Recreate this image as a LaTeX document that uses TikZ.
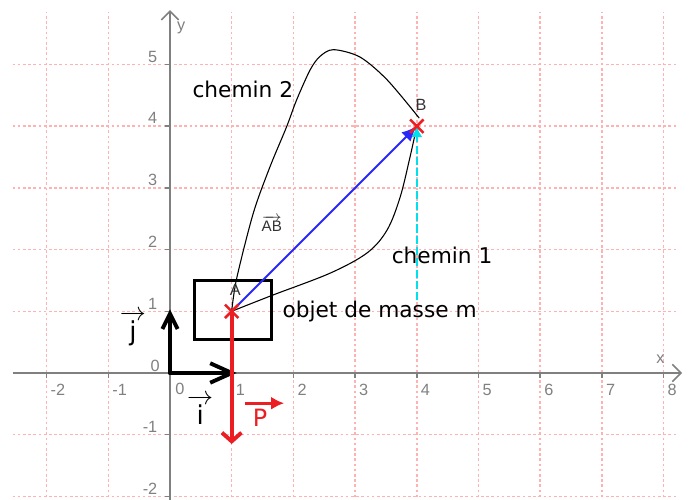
\documentclass[tikz,border=0pt]{standalone}
\usepackage{amsmath}
\usepackage{fontspec}
\usetikzlibrary{arrows.meta, shapes.misc}
\newfontfamily\comic{DejaVu Sans}
\newfontfamily\arialf{Liberation Sans}
\definecolor{rosegrille}{RGB}{255,178,178}
\definecolor{grisaxe}{RGB}{128,128,128}
\definecolor{rougev}{RGB}{235,30,35}
\definecolor{bleuv}{RGB}{40,40,250}
\definecolor{cyanv}{RGB}{0,225,235}

\begin{document}
\begin{tikzpicture}[x=1cm, y=1cm,
        quadrillage/.style={rosegrille, line width=0.7pt, dash pattern=on 1.2pt off 1.2pt},
        axe/.style={grisaxe, line width=0.7pt},
        graduation/.style={grisaxe, inner sep=0pt, font=\arialf\fontsize{7.5}{9}\selectfont},
        base/.style={black, line width=1.8pt, line cap=round},
        croix/.style={cross out, draw=rougev, line width=1.2pt, minimum size=5pt, inner sep=0pt},
        chemin/.style={black, line width=0.5pt},
        texte/.style={font=\comic\fontsize{10}{12}\selectfont}]
        \useasboundingbox (-2.755,-2.058) rectangle (8.46,6.045);
        \foreach \x in {-2,...,8}
          \draw[quadrillage] (\x,-2.1) -- (\x,5.85);
        \foreach \y in {-2,...,5}
          \draw[quadrillage] (-2.55,\y) -- (8.2,\y);
        \draw[axe, -{Straight Barb[length=4pt, width=8pt]}] (-2.55,0) -- (8.3,0);
        \draw[axe, -{Straight Barb[length=4pt, width=8pt]}] (0,-2.1) -- (0,5.88);
        \node[graduation] (labx) at (7.95,0.22) {x};
        \node[graduation] (laby) at (0.18,5.6) {y};
        \foreach \x in {-2,-1,1,2,3,4,5,6,7,8} {
          \draw[axe] (\x,0) -- (\x,-0.08);
          \node[graduation, anchor=north west] (gx\x) at (\x+0.06,-0.17) {\x};
        }
        \foreach \y in {-2,-1,1,2,3,4,5} {
          \draw[axe] (0,\y) -- (-0.08,\y);
          \node[graduation, anchor=south east] (gy\y) at (-0.2,\y+0.03) {\y};
        }
        \node[graduation] (gx0) at (0.16,-0.26) {0};
        \node[graduation] (gy0) at (-0.24,0.11) {0};

        \coordinate (O) at (0,0);
        \coordinate (I) at (1.08,0);
        \coordinate (J) at (0,1.03);
        \coordinate (A) at (1,1);
        \coordinate (B) at (4,4);
        \coordinate (Bfin) at (4.04,4.13);
        \coordinate (Pbas) at (1,-1.15);
        \coordinate (Pd) at (1.22,-0.49);
        \coordinate (Pf) at (1.85,-0.49);
        \coordinate (Cd) at (4,1.18);

        \node[draw, line width=1.4pt, minimum width=1.25cm, minimum height=0.95cm] (boite) at (1.025,1.025) {};
        \draw[base, -{Straight Barb[length=10pt, width=9pt]}] (O) -- (I);
        \draw[base, -{Straight Barb[length=7pt, width=7pt]}] (O) -- (J);
        \draw[base, rougev, -{Straight Barb[length=4pt, width=9pt]}] (A) -- (Pbas);
        \draw[rougev, line width=1.4pt, -{Latex[length=6pt, width=6pt]}] (Pd) -- (Pf);

        \draw[chemin] plot[smooth, tension=0.55] coordinates {(A) (1.66,1.26) (2.6,1.62) (3.2,1.95) (3.52,2.32) (3.73,2.85) (3.89,3.5) (B)};
        \draw[chemin] plot[smooth, tension=0.5] coordinates {(A) (1.08,1.53) (1.35,2.59) (1.62,3.34) (1.89,3.99) (2.05,4.42) (2.27,4.91) (2.43,5.13) (2.65,5.24) (3.08,5.12) (3.52,4.75) (Bfin)};
        \draw[cyanv, line width=0.8pt, dash pattern=on 3.7pt off 1.5pt, -{Latex[length=5pt, width=5pt]}] (Cd) -- (B);
        \draw[bleuv, line width=0.9pt, -{Latex[length=7pt, width=6pt]}] (A) -- (B);

        \node[croix] (xA) at (A) {};
        \node[croix] (xB) at (B) {};
        \node[font=\arialf\fontsize{7.5}{9}\selectfont, black!80] (labA) at (1.06,1.35) {A};
        \node[font=\arialf\fontsize{7.5}{9}\selectfont, black!80] (labB) at (4.07,4.34) {B};
        \node[font=\arialf\fontsize{7}{9}\selectfont, black!80] (labAB) at (1.65,2.42) {$\overrightarrow{\text{\arialf AB}}$};
        \node[texte] (ch2) at (1.18,4.59) {chemin 2};
        \node[texte] (ch1) at (4.41,1.91) {chemin 1};
        \node[texte, anchor=west] (objet) at (1.7,1.0) {objet de masse m};
        \node[texte, font=\comic\fontsize{12}{14}\selectfont] (labi) at (0.49,-0.6) {$\overrightarrow{\text{\comic\,i\,}}$};
        \node[texte, font=\comic\fontsize{12}{14}\selectfont] (labj) at (-0.6,0.72) {$\overrightarrow{\text{\comic\,j\,}}$};
        \node[texte, rougev, font=\comic\fontsize{11}{13}\selectfont] (labP) at (1.46,-0.73) {P};
\end{tikzpicture}
\end{document}
